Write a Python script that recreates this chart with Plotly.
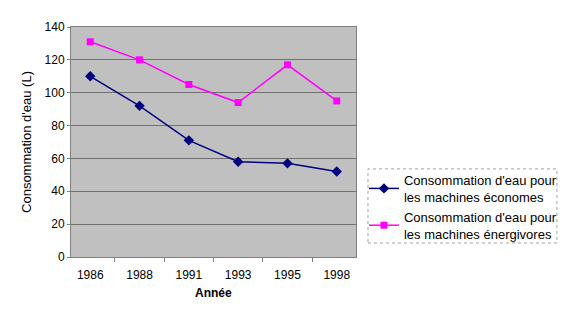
import plotly.graph_objects as go

# Water consumption of washing machines, by year
annees = ["1986", "1988", "1991", "1993", "1995", "1998"]
economes = [110, 92, 71, 58, 57, 52]
energivores = [131, 120, 105, 94, 117, 95]
y_ticks = [0, 20, 40, 60, 80, 100, 120, 140]

serie_economes = "Consommation d'eau pour<br>les machines économes"
serie_energivores = "Consommation d'eau pour<br>les machines énergivores"

font = "Liberation Sans, Arial, sans-serif"

fig = go.Figure()
fig.add_trace(go.Scatter(
    x=annees, y=economes, name=serie_economes, mode="lines+markers",
    line=dict(color="#000080", width=1.5),
    marker=dict(symbol="diamond", size=8, color="#000080"),
))
fig.add_trace(go.Scatter(
    x=annees, y=energivores, name=serie_energivores, mode="lines+markers",
    line=dict(color="#ff00ff", width=1.5),
    marker=dict(symbol="square", size=7, color="#ff00ff"),
))

fig.update_layout(
    width=567, height=327,
    margin=dict(l=71, r=211, t=27, b=70, autoexpand=False),
    paper_bgcolor="white",
    plot_bgcolor="#c0c0c0",
    font=dict(family=font, size=12, color="black"),
    showlegend=True,
    legend=dict(
        x=1.028, y=0.40, xanchor="left", yanchor="top",
        bgcolor="rgba(0,0,0,0)", borderwidth=0,
        font=dict(family=font, size=13),
        tracegroupgap=4, itemwidth=30,
    ),
    shapes=[dict(
        type="rect", xref="paper", yref="paper",
        x0=1.042, x1=1.705, y0=0.061, y1=0.383,
        line=dict(color="#a0a0a0", width=1, dash="dot"),
    )],
    # x-axis title placed as an annotation for finer vertical control
    annotations=[dict(
        text="<b>Année</b>", xref="paper", yref="paper",
        x=0.5, y=-0.155, xanchor="center", yanchor="middle",
        showarrow=False, font=dict(family=font, size=12),
    )],
)

fig.update_xaxes(
    type="category",
    showgrid=False,
    ticks="outside", ticklen=4, tickcolor="#808080",
    tickson="boundaries",
    showline=True, linecolor="#808080", mirror=True,
    tickfont=dict(size=12),
    ticklabelstandoff=7,
)
fig.update_yaxes(
    range=[0, 140],
    tickvals=y_ticks,
    showgrid=True, gridcolor="#707070", gridwidth=1,
    ticks="outside", ticklen=3, tickcolor="#808080",
    showline=True, linecolor="#808080", mirror=True,
    zeroline=False,
    tickfont=dict(size=12),
    title=dict(text="Consommation d'eau (L)", font=dict(size=13), standoff=10),
)

fig.write_html("out.html")
